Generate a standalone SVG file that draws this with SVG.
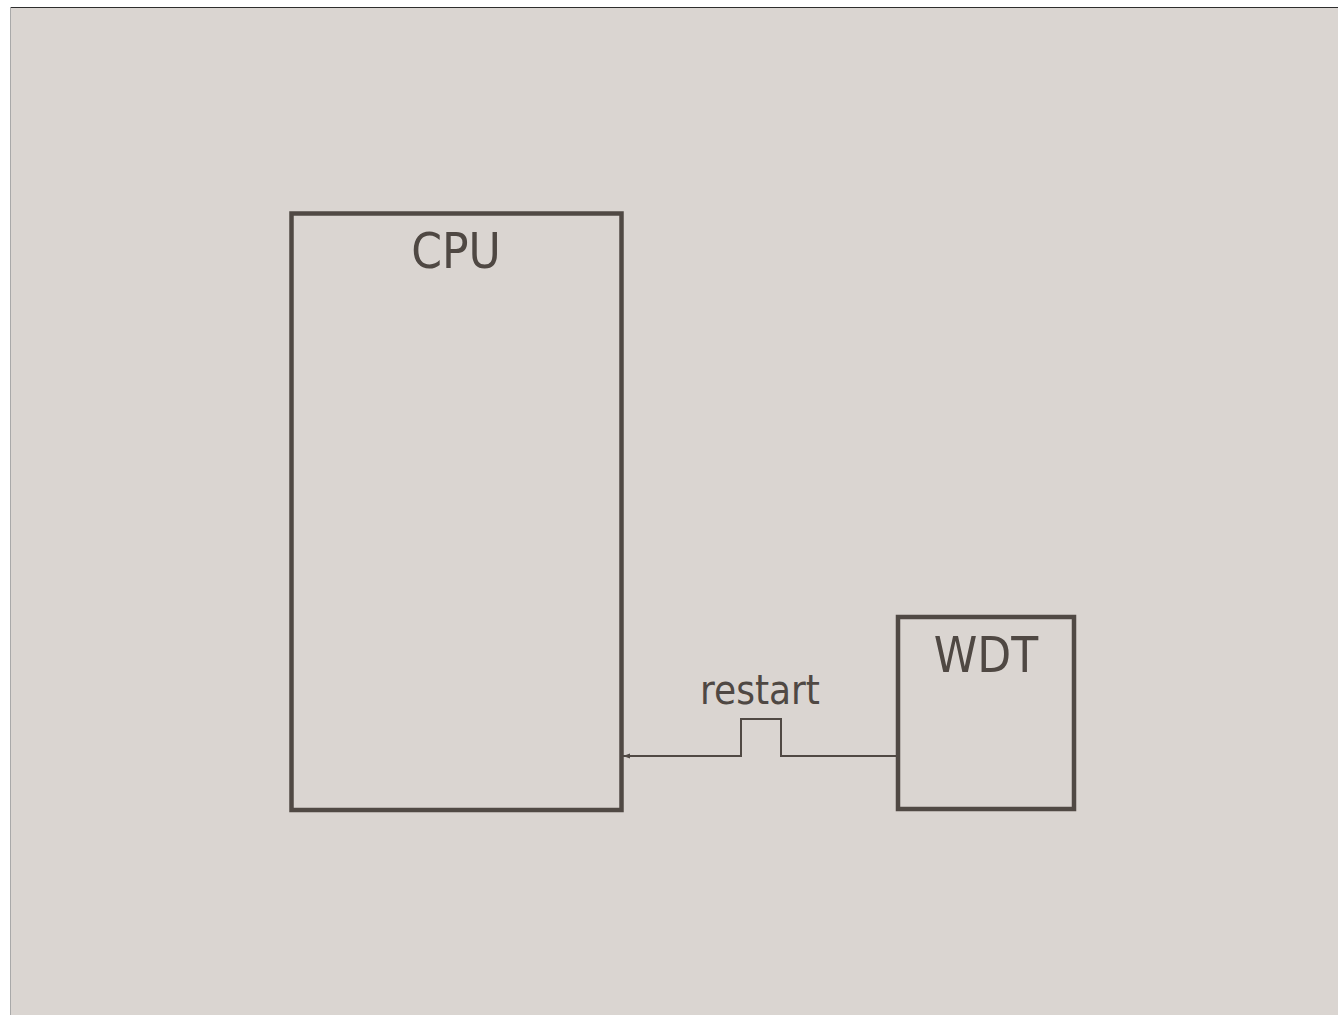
<svg xmlns="http://www.w3.org/2000/svg" width="1339" height="1015" viewBox="0 0 1339 1015">
<style>
.box{fill:none;stroke:#504944;stroke-width:4.5}
.lbl{font-family:"DejaVu Sans Condensed","DejaVu Sans",sans-serif;font-stretch:condensed;fill:#4f4843;text-anchor:middle}
.wire{fill:none;stroke:#504944;stroke-width:2}
</style>
<defs>
<marker id="arr" viewBox="0 0 10 10" refX="10" refY="5" markerWidth="3.5" markerHeight="3.5" orient="auto" markerUnits="strokeWidth">
<path d="M0,1.5 L10,5 L0,8.5 Z" fill="#504944"/>
</marker>
</defs>
<rect x="0" y="0" width="1339" height="1015" fill="#ffffff"/>
<rect x="10" y="7" width="1328" height="1008" fill="#dad5d1"/>
<line x1="10" y1="7.5" x2="1338" y2="7.5" stroke="#2e2e2e" stroke-width="1"/>
<line x1="10.5" y1="7" x2="10.5" y2="1015" stroke="#a9a9a9" stroke-width="1"/>
<g id="connectors">
<path class="wire" d="M897,756 L781,756 L781,719 L741,719 L741,756 L623,756" marker-end="url(#arr)"/>
<text class="lbl" x="760" y="704" font-size="40">restart</text>
</g>
<g id="cpu">
<rect class="box" x="291.5" y="213.5" width="330" height="596.5"/>
<text class="lbl" x="456" y="268" font-size="49">CPU</text>
</g>
<g id="wdt">
<rect class="box" x="898" y="617" width="176" height="192"/>
<text class="lbl" x="986" y="672" font-size="49">WDT</text>
</g>
</svg>
